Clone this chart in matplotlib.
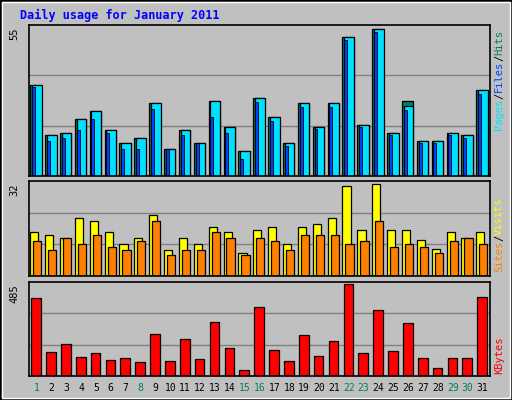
import matplotlib
matplotlib.use("Agg")
import matplotlib.pyplot as plt
from matplotlib.patches import Rectangle

days = list(range(1, 32))
hits = [33,15,15.7,20.8,23.7,16.8,12,13.8,26.6,9.8,16.8,12,27.3,17.8,9.1,28.4,21.5,12,26.6,17.8,26.6,50.6,18.6,53.5,15.7,27.3,12.7,12.7,15.7,15,31.3]
files = [33,15,15.7,20.8,23.7,16.8,12,13.8,26.6,9.8,16.8,12,27.3,17.8,9.1,28.4,21.5,12,26.6,17.8,26.6,50.6,18.6,53.5,15.7,25.5,12.7,12.7,15.7,15,31.3]
pages = [32.4,12.7,13.8,16.8,20.8,15.7,9.8,9.8,24.4,9.8,15,12,21.5,15.7,6.2,27,20,11,25,17,25,49.5,18,52.5,15,24,12,12,15,14,30]
visits = [14.8,13.7,12.7,19.4,18.4,14.8,10.7,12.7,20.4,8.7,12.7,10.7,16.4,14.8,7.7,15.5,16.5,10.8,16.5,17.5,19.5,30.3,15.5,31,15.5,15.5,12,9,14.8,12.7,14.8]
sites = [11.7,8.7,12.7,10.7,13.7,9.7,8.7,11.7,18.4,7,8.7,8.7,14.8,12.7,7,12.7,11.7,8.7,13.7,13.7,13.7,10.8,11.7,18.4,9.7,10.8,9.7,7.7,11.7,12.7,10.8]
kbytes = [402,122,164,96,117,81,91,71,215,76,189,86,277,143,31,356,134,77,212,103,181,475,119,340,129,273,93,41,93,93,408]
weekend = [1, 8, 15, 16, 22, 23, 29, 30]
max_pages, max_visits, max_kb = 55, 32, 485

W, H = 512, 400
fig = plt.figure(figsize=(W/100, H/100), dpi=100, facecolor="#C0C0C0")
fig.patches.append(Rectangle((0, 0), 1, 1, transform=fig.transFigure, fill=False, ec="black", lw=2))
fig.patches.append(Rectangle((2/W, 2/H), 1-4/W, 1-4/H, transform=fig.transFigure, fill=False, ec="white", lw=1))
mono = "DejaVu Sans Mono"
fig.text(20/W, 1-15/H, "Daily usage for January 2011", color="#0000FF", fontsize=8.5,
         fontweight="bold", family=mono, va="center", ha="left")

x0, x1 = 29, 490
def ax_at(top, bot, ymax):
    ax = fig.add_axes([x0/W, 1-bot/H, (x1-x0)/W, (bot-top)/H])
    ax.set_facecolor("#C0C0C0")
    ax.set_xlim(0.5, 31.5)
    ax.set_ylim(0, ymax)
    ax.set_xticks([]); ax.set_yticks([])
    for s in ax.spines.values():
        s.set_color("black"); s.set_linewidth(1.2)
    for g in (ymax/3, 2*ymax/3):
        ax.axhline(g, color="#808080", lw=1, zorder=0)
    return ax

kw = dict(edgecolor="black", linewidth=0.9, align="edge")
a1 = ax_at(25, 176, max_pages)
a1.bar([d-0.42 for d in days], hits, width=0.75, color="#00805C", **kw)
a1.bar([d-0.3 for d in days], files, width=0.65, color="#00E0FF", **kw)
a1.bar([d-0.3 for d in days], pages, width=0.2, color="#0040FF", edgecolor="black", linewidth=0.6, align="edge")

a2 = ax_at(181, 276, max_visits)
a2.bar([d-0.42 for d in days], visits, width=0.55, color="#FFFF00", **kw)
a2.bar([d-0.22 for d in days], sites, width=0.55, color="#FF8000", **kw)

a3 = ax_at(282, 376, max_kb)
a3.bar([d-0.35 for d in days], kbytes, width=0.65, color="#FF0000", **kw)

for d in days:
    fig.text((x0 + (d-0.5)*(x1-x0)/31)/W, 1-388/H, str(d), ha="center", va="center",
             fontsize=7, family=mono, color="#00805C" if d in weekend else "black")

for y, t in ((25, max_pages), (181, max_visits), (282, max_kb)):
    fig.text(14/W, 1-(y+2)/H, str(t), rotation=90, ha="center", va="top", fontsize=7.5, family=mono)

def rlabel(yc, parts):
    total = sum(len(p[0]) for p in parts)
    ch = 6.2
    y = yc + total*ch/2
    for t, c in parts:
        fig.text(499/W, 1-y/H, t, rotation=90, ha="center", va="bottom", fontsize=7.5, family=mono, color=c)
        y -= len(t)*ch

rlabel(80, [("Pages", "#00E0FF"), ("/", "black"), ("Files", "#0040FF"), ("/", "black"), ("Hits", "#00805C")])
rlabel(235, [("Sites", "#FF8000"), ("/", "black"), ("Visits", "#FFFF00")])
rlabel(355, [("KBytes", "#FF0000")])

fig.savefig("out.png", dpi=100, facecolor=fig.get_facecolor())
